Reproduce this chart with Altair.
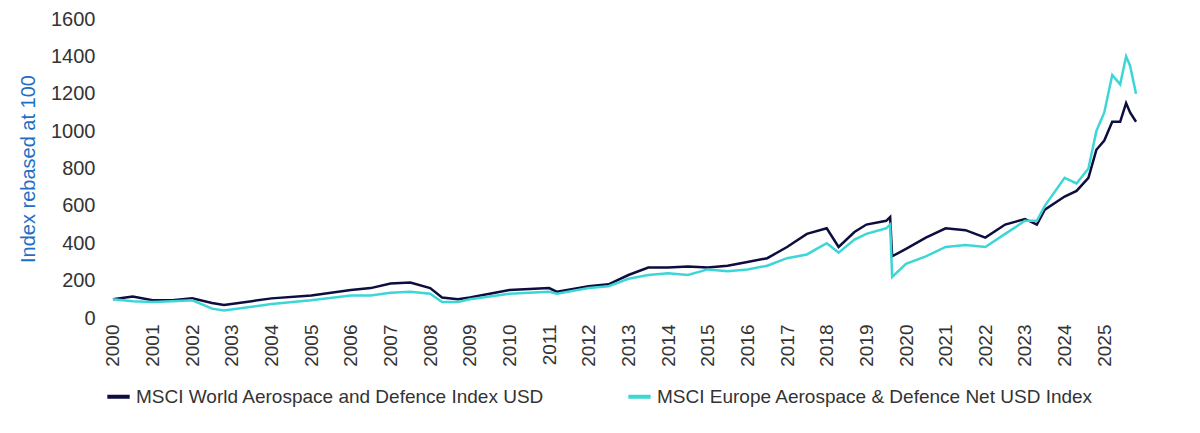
import altair as alt
import pandas as pd

years = [2000, 2000.5, 2001, 2001.5, 2002, 2002.5, 2002.8, 2003.5, 2004, 2005, 2006, 2006.5,
         2007, 2007.5, 2008, 2008.3, 2008.7, 2009, 2010, 2011, 2011.2, 2012, 2012.5, 2013,
         2013.5, 2014, 2014.5, 2015, 2015.5, 2016, 2016.5, 2017, 2017.5, 2018, 2018.3, 2018.7,
         2019, 2019.5, 2019.6, 2019.65, 2020, 2020.5, 2021, 2021.5, 2022, 2022.5, 2023, 2023.3,
         2023.5, 2024, 2024.3, 2024.6, 2024.8, 2025, 2025.2, 2025.4, 2025.55, 2025.65, 2025.8]
world = [100, 115, 95, 95, 105, 80, 70, 90, 105, 120, 150, 160,
         185, 190, 160, 110, 100, 110, 150, 160, 140, 170, 180, 230,
         270, 270, 275, 270, 280, 300, 320, 380, 450, 480, 380, 460,
         500, 520, 540, 330, 370, 430, 480, 470, 430, 500, 530, 500,
         580, 650, 680, 750, 900, 950, 1050, 1050, 1150, 1100, 1050]
europe = [100, 90, 85, 90, 95, 50, 40, 60, 75, 95, 120, 120,
          135, 140, 130, 85, 85, 100, 130, 140, 130, 160, 170, 210,
          230, 240, 230, 260, 250, 260, 280, 320, 340, 400, 350, 420,
          450, 480, 500, 220, 290, 330, 380, 390, 380, 450, 520, 520,
          600, 750, 720, 800, 1000, 1100, 1300, 1250, 1400, 1350, 1200]

s1 = "MSCI World Aerospace and Defence Index USD"
s2 = "MSCI Europe Aerospace & Defence Net USD Index"
df = pd.concat([
    pd.DataFrame({"year": years, "value": world, "series": s1}),
    pd.DataFrame({"year": years, "value": europe, "series": s2}),
])

chart = alt.Chart(df).mark_line(strokeWidth=2.5).encode(
    x=alt.X("year:Q", scale=alt.Scale(domain=[1999.8, 2025.85], nice=False),
            axis=alt.Axis(values=list(range(2000, 2026)), format="d", labelAngle=-90,
                          grid=False, domain=False, ticks=False, title=None, labelPadding=6,
                          labelFontSize=19, labelColor="#333", labelFont="Liberation Sans")),
    y=alt.Y("value:Q", scale=alt.Scale(domain=[0, 1600], nice=False),
            axis=alt.Axis(values=list(range(0, 1601, 200)), format="d", grid=False, domain=False,
                          ticks=False, labelPadding=10,
                          title="Index rebased at 100", titleColor="#1f6fc5", titleFontSize=20,
                          titleFontWeight="normal", titleFont="Liberation Sans", titlePadding=12,
                          labelFontSize=20, labelColor="#333", labelFont="Liberation Sans")),
    color=alt.Color("series:N", scale=alt.Scale(domain=[s1, s2], range=["#0d0d3f", "#3dd6d6"]),
                    legend=alt.Legend(orient="bottom", direction="horizontal", title=None,
                                      symbolType="stroke", symbolStrokeWidth=4, symbolSize=500,
                                      labelFontSize=19, labelColor="#333", labelFont="Liberation Sans",
                                      columnPadding=75, labelLimit=600, offset=16)),
).properties(width=1033, height=299, padding={"left": 10, "top": 1, "right": 5, "bottom": 0}
).configure_view(stroke=None)

chart.save("out.html", embed_options={"renderer": "svg", "actions": False})
